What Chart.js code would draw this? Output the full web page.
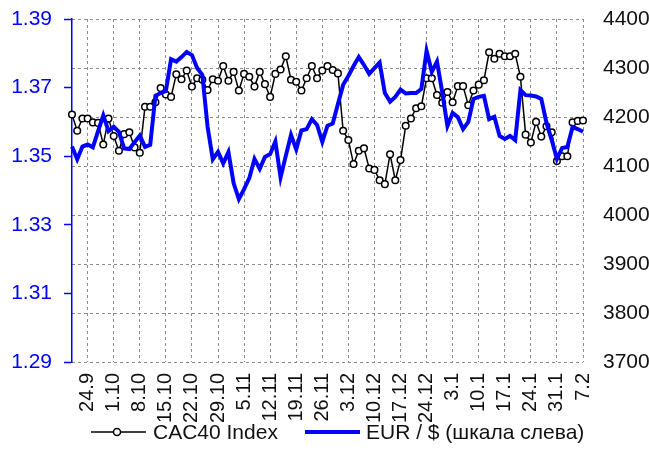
<!DOCTYPE html>
<html>
<head>
<meta charset="utf-8">
<script src="https://cdn.jsdelivr.net/npm/chart.js@4"></script>
<style>
  html, body { margin: 0; padding: 0; background: #fff; }
  #wrap { width: 649px; height: 450px; }
</style>
</head>
<body>
<div id="wrap"><canvas id="chart" width="649" height="450"></canvas></div>
<script>
// trading days, 19.9 -> 7.2
const dates = [
    '19.9', '20.9', '23.9', '24.9', '25.9', '26.9', '27.9', '30.9',
    '1.10', '2.10', '3.10', '4.10', '7.10', '8.10', '9.10', '10.10', '11.10', '14.10', '15.10', '16.10',
    '17.10', '18.10', '21.10', '22.10', '23.10', '24.10', '25.10', '28.10', '29.10', '30.10', '31.10',
    '1.11', '4.11', '5.11', '6.11', '7.11', '8.11', '11.11', '12.11', '13.11', '14.11', '15.11', '18.11',
    '19.11', '20.11', '21.11', '22.11', '25.11', '26.11', '27.11', '28.11', '29.11',
    '2.12', '3.12', '4.12', '5.12', '6.12', '9.12', '10.12', '11.12', '12.12', '13.12', '16.12', '17.12',
    '18.12', '19.12', '20.12', '23.12', '24.12', '27.12', '30.12', '31.12',
    '2.1', '3.1', '6.1', '7.1', '8.1', '9.1', '10.1', '13.1', '14.1', '15.1', '16.1', '17.1', '20.1',
    '21.1', '22.1', '23.1', '24.1', '27.1', '28.1', '29.1', '30.1', '31.1',
    '3.2', '4.2', '5.2', '6.2', '7.2'
];

const tickLabels = ['24.9', '1.10', '8.10', '15.10', '22.10', '29.10', '5.11', '12.11', '19.11', '26.11',
    '3.12', '10.12', '17.12', '24.12', '3.1', '10.1', '17.1', '24.1', '31.1', '7.2'];

const cac40 = [
    4205, 4172, 4197, 4197, 4189, 4188, 4144, 4197, 4161, 4131,
    4165, 4169, 4138, 4127, 4221, 4221, 4230, 4259, 4246, 4241,
    4287, 4277, 4295, 4262, 4279, 4276, 4255, 4277, 4274, 4304,
    4274, 4292, 4254, 4288, 4282, 4262, 4292, 4267, 4241, 4288,
    4297, 4324, 4276, 4272, 4254, 4279, 4304, 4279, 4295, 4304,
    4296, 4289, 4172, 4153, 4104, 4131, 4136, 4095, 4092, 4071,
    4063, 4124, 4071, 4112, 4182, 4197, 4218, 4222, 4279, 4279,
    4245, 4229, 4251, 4230, 4263, 4263, 4224, 4254, 4266, 4275,
    4332, 4319, 4329, 4324, 4324, 4329, 4282, 4164, 4148, 4190,
    4160, 4181, 4169, 4110, 4120, 4120, 4189, 4192, 4193
];

const eurUsd = [
    1.3528, 1.3491, 1.3528, 1.3534, 1.3526, 1.3573, 1.3619, 1.3573, 1.3586, 1.3571,
    1.3523, 1.3521, 1.3541, 1.3560, 1.3527, 1.3533, 1.3676, 1.3684, 1.3690, 1.3783,
    1.3776, 1.3789, 1.3804, 1.3795, 1.3757, 1.3737, 1.3586, 1.3491, 1.3513, 1.3479,
    1.3512, 1.3421, 1.3375, 1.3404, 1.3436, 1.3492, 1.3463, 1.3498, 1.3506, 1.3543,
    1.3438, 1.3501, 1.3562, 1.3520, 1.3575, 1.3579, 1.3608, 1.3591, 1.3542, 1.3589,
    1.3595, 1.3652, 1.3708, 1.3734, 1.3763, 1.3789, 1.3766, 1.3740, 1.3757, 1.3773,
    1.3684, 1.3659, 1.3673, 1.3694, 1.3683, 1.3684, 1.3684, 1.3696, 1.3807, 1.3746,
    1.3776, 1.3687, 1.3588, 1.3626, 1.3614, 1.3579, 1.3600, 1.3667, 1.3673, 1.3676,
    1.3608, 1.3615, 1.3559, 1.3550, 1.3559, 1.3547, 1.3693, 1.3678, 1.3677, 1.3674,
    1.3667, 1.3597, 1.3547, 1.3492, 1.3524, 1.3527, 1.3585, 1.3579, 1.3571
];

const seriesNames = ['CAC40 Index', 'EUR / $ (шкала слева)'];

const FONT = "'Liberation Sans', Arial, sans-serif";
const GRID = '#8c8c8c';
const BLUE = '#0000ff';

Chart.defaults.font.family = FONT;

// legend drawn by hand so it can sit where the original has it
const legendPlugin = {
    id: 'bottomLegend',
    afterDraw(chart) {
        const ctx = chart.ctx;
        const y = 432;
        ctx.save();
        ctx.font = '21px ' + FONT;
        ctx.textBaseline = 'middle';

        ctx.strokeStyle = '#000';
        ctx.lineWidth = 1.5;
        ctx.beginPath();
        ctx.moveTo(91, y);
        ctx.lineTo(146, y);
        ctx.stroke();
        ctx.beginPath();
        ctx.arc(117, y, 3.5, 0, Math.PI * 2);
        ctx.fillStyle = '#fff';
        ctx.fill();
        ctx.stroke();
        ctx.fillStyle = '#111';
        ctx.fillText(seriesNames[0], 153, y + 1);

        ctx.strokeStyle = BLUE;
        ctx.lineWidth = 4;
        ctx.beginPath();
        ctx.moveTo(305, y);
        ctx.lineTo(360, y);
        ctx.stroke();
        ctx.fillText(seriesNames[1], 366, y + 1);
        ctx.restore();
    }
};

// fixed axis sizes so the plot area lands where it is in the original
const fixSize = (w) => (scale) => {
    scale.width = w;
    scale.paddingTop = 0;
    scale.paddingBottom = 0;
};

const ctx = document.getElementById('chart').getContext('2d');

new Chart(ctx, {
    type: 'line',
    data: {
        labels: dates,
        datasets: [{
            label: seriesNames[0],
            data: cac40,
            yAxisID: 'yRight',
            borderColor: '#000',
            borderWidth: 1.5,
            pointRadius: 3.3,
            pointBorderWidth: 1.5,
            pointBackgroundColor: '#fff',
            pointBorderColor: '#000',
            tension: 0,
            order: 1
        }, {
            label: seriesNames[1],
            data: eurUsd,
            yAxisID: 'yLeft',
            borderColor: BLUE,
            borderWidth: 4,
            pointRadius: 0,
            tension: 0,
            order: 0
        }]
    },
    options: {
        responsive: false,
        animation: false,
        layout: { padding: { top: 19, left: 0, right: 0, bottom: 0 } },
        plugins: {
            legend: { display: false },
            tooltip: { enabled: false }
        },
        scales: {
            x: {
                offset: false,
                afterFit: (scale) => { scale.height = 88; },
                grid: {
                    color: (c) => (c.tick && tickLabels.includes(c.tick.label) ? GRID : 'rgba(0,0,0,0)'),
                    drawTicks: false,
                    lineWidth: 1
                },
                border: { display: false, dash: [3, 3] },
                ticks: {
                    autoSkip: false,
                    minRotation: 90,
                    maxRotation: 90,
                    padding: 11,
                    color: '#111',
                    font: { size: 20 },
                    callback: function (value) {
                        const lab = this.getLabelForValue(value);
                        return tickLabels.includes(lab) ? lab : '';
                    }
                }
            },
            yLeft: {
                position: 'left',
                min: 1.29,
                max: 1.39,
                afterFit: fixSize(72),
                afterBuildTicks: (scale) => {
                    scale.ticks = [1.29, 1.31, 1.33, 1.35, 1.37, 1.39].map(v => ({ value: v }));
                },
                grid: {
                    drawOnChartArea: false,
                    drawTicks: true,
                    tickLength: 8,
                    tickColor: BLUE,
                    tickWidth: 1.5
                },
                border: { display: true, color: BLUE, width: 1.5 },
                ticks: {
                    color: BLUE,
                    padding: 12,
                    font: { size: 21 },
                    callback: (v) => Number(v).toFixed(2)
                }
            },
            yRight: {
                position: 'right',
                min: 3700,
                max: 4400,
                afterFit: fixSize(66),
                ticks: {
                    stepSize: 100,
                    color: '#111',
                    padding: 20,
                    font: { size: 21 },
                    callback: (v) => String(v)
                },
                grid: {
                    color: GRID,
                    lineWidth: 1,
                    drawTicks: false
                },
                border: { display: false, dash: [3, 3] }
            }
        }
    },
    plugins: [legendPlugin]
});
</script>
</body>
</html>
